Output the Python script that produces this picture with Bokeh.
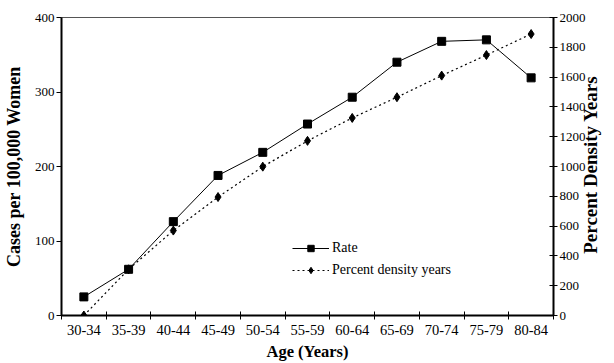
import math
from bokeh.plotting import figure
from bokeh.models import Range1d, LinearAxis, FixedTicker, SingleIntervalTicker, Legend, LegendItem
from bokeh.embed import file_html
from bokeh.resources import INLINE

categories = ["30-34", "35-39", "40-44", "45-49", "50-54", "55-59",
              "60-64", "65-69", "70-74", "75-79", "80-84"]
rate = [25, 62, 126, 188, 219, 257, 293, 340, 368, 370, 319]
pdy = [0, 310, 570, 795, 999, 1172, 1326, 1465, 1610, 1748, 1889]

xs = list(range(len(categories)))
FONT = "'Liberation Serif'"

p = figure(width=614, height=363, output_backend="svg", toolbar_location=None,
           x_range=Range1d(-0.5, len(categories) - 0.5), y_range=Range1d(0, 400),
           min_border_left=60, min_border_right=55, min_border_top=17, min_border_bottom=45)
p.extra_y_ranges = {"pdy": Range1d(0, 2000)}
p.xgrid.visible = False
p.ygrid.visible = False
p.outline_line_color = "#555555"
p.outline_line_width = 1


def style(ax, label, size):
    ax.axis_line_width = 2
    ax.axis_line_color = "black"
    ax.major_tick_line_color = "black"
    ax.axis_label = label
    ax.axis_label_text_font = FONT
    ax.axis_label_text_font_style = "bold"
    ax.axis_label_text_font_size = size
    ax.axis_label_text_color = "black"
    ax.major_label_text_font = FONT
    ax.major_label_text_font_size = "13px"
    ax.major_label_text_color = "black"


# x axis
xa = p.xaxis[0]
style(xa, "Age (Years)", "16.5px")
xa.ticker = FixedTicker(ticks=xs, minor_ticks=[i - 0.5 for i in range(len(categories) + 1)])
xa.major_label_overrides = {i: c for i, c in enumerate(categories)}
xa.major_label_text_font_size = "14.5px"
xa.major_tick_in = 0
xa.major_tick_out = 0
xa.minor_tick_in = 4
xa.minor_tick_out = 4
xa.minor_tick_line_color = "black"
xa.minor_tick_line_width = 1
xa.axis_label_standoff = 4
xa.major_label_standoff = 5

# left axis
ya = p.yaxis[0]
style(ya, "Cases per 100,000 Women", "18px")
ya.ticker = SingleIntervalTicker(interval=100, num_minor_ticks=0)
ya.major_tick_in = 0
ya.major_tick_out = 5
ya.minor_tick_in = 0
ya.minor_tick_out = 0
ya.axis_label_standoff = 8
ya.major_label_standoff = 2

# right axis
ra = LinearAxis(y_range_name="pdy",
                ticker=SingleIntervalTicker(interval=200, num_minor_ticks=0))
right_label = "Percent Density Years"
if hasattr(ra, "axis_label_orientation") and hasattr(ra, "axis_label_align"):
    # read bottom-to-top, starting a little above the bottom of the axis
    ra.axis_label_orientation = math.pi / 2
    ra.axis_label_align = "start"
    right_label = "\u00a0" * 13 + right_label
style(ra, right_label, "19px")
ra.major_tick_in = 4
ra.major_tick_out = 4
ra.minor_tick_in = 0
ra.minor_tick_out = 0
ra.axis_label_standoff = 2
ra.major_label_standoff = 2
p.add_layout(ra, "right")

# series
l1 = p.line(xs, rate, line_color="black", line_width=1)
m1 = p.scatter(xs, rate, marker="square", size=8, color="black")
l2 = p.line(xs, pdy, y_range_name="pdy", line_color="black", line_width=1.2, line_dash="2 3")
m2 = p.scatter(xs, pdy, y_range_name="pdy", marker="diamond", size=9, color="black")

legend = Legend(items=[LegendItem(label="Rate", renderers=[l1, m1]),
                       LegendItem(label="Percent density years", renderers=[l2, m2])],
                location=(231, 37))
legend.border_line_color = None
legend.background_fill_alpha = 0
legend.label_text_font = FONT
legend.label_text_font_size = "14px"
legend.label_text_color = "black"
legend.glyph_width = 37
legend.glyph_height = 16
legend.label_height = 16
legend.spacing = 6
legend.padding = 0
legend.margin = 0
legend.label_standoff = 3
p.add_layout(legend)

open("out.html", "w").write(file_html(p, INLINE))
